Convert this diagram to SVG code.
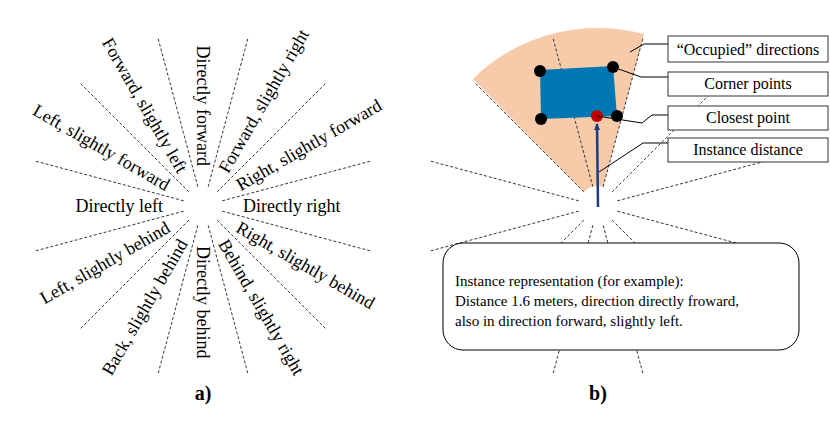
<svg xmlns="http://www.w3.org/2000/svg" width="830" height="424" viewBox="0 0 830 424">
<style>
.ray{stroke:#333;stroke-width:0.9;stroke-dasharray:3,2;fill:none}
.lab{font-family:"Liberation Serif",serif;font-size:18px;dominant-baseline:central;fill:#000}
.box{fill:#fff;stroke:#333;stroke-width:1}
.bt{font-family:"Liberation Serif",serif;font-size:16px;text-anchor:middle;fill:#000}
.lead{stroke:#000;stroke-width:1;fill:none}
.dot{fill:#000}
</style>
<defs>
<marker id="ah" markerWidth="8" markerHeight="8" refX="6" refY="4" orient="auto" markerUnits="userSpaceOnUse"><path d="M0,1 L7,4 L0,7 Z" fill="#1f3a80"/></marker>
<g id="rays">
<line class="ray" x1="0" y1="-20" x2="0" y2="-173" transform="rotate(15)"/>
<line class="ray" x1="0" y1="-20" x2="0" y2="-173" transform="rotate(45)"/>
<line class="ray" x1="0" y1="-20" x2="0" y2="-173" transform="rotate(75)"/>
<line class="ray" x1="0" y1="-20" x2="0" y2="-173" transform="rotate(105)"/>
<line class="ray" x1="0" y1="-20" x2="0" y2="-173" transform="rotate(135)"/>
<line class="ray" x1="0" y1="-20" x2="0" y2="-173" transform="rotate(165)"/>
<line class="ray" x1="0" y1="-20" x2="0" y2="-173" transform="rotate(195)"/>
<line class="ray" x1="0" y1="-20" x2="0" y2="-173" transform="rotate(225)"/>
<line class="ray" x1="0" y1="-20" x2="0" y2="-173" transform="rotate(255)"/>
<line class="ray" x1="0" y1="-20" x2="0" y2="-173" transform="rotate(285)"/>
<line class="ray" x1="0" y1="-20" x2="0" y2="-173" transform="rotate(315)"/>
<line class="ray" x1="0" y1="-20" x2="0" y2="-173" transform="rotate(345)"/>
</g>
</defs>
<rect width="830" height="424" fill="#fff"/>
<g id="panel-a" transform="translate(203,206)">
<use href="#rays"/>
<text class="lab" x="40" text-anchor="start">Directly right</text>
<text class="lab" x="40" text-anchor="start" transform="rotate(-30)">Right, slightly forward</text>
<text class="lab" x="40" text-anchor="start" transform="rotate(-60)">Forward, slightly right</text>
<text class="lab" x="-40" text-anchor="end" transform="rotate(90)">Directly forward</text>
<text class="lab" x="-40" text-anchor="end" transform="rotate(60)">Forward, slightly left</text>
<text class="lab" x="-40" text-anchor="end" transform="rotate(30)">Left, slightly forward</text>
<text class="lab" x="-40" text-anchor="end">Directly left</text>
<text class="lab" x="-40" text-anchor="end" transform="rotate(-30)">Left, slightly behind</text>
<text class="lab" x="-40" text-anchor="end" transform="rotate(-60)">Back, slightly behind</text>
<text class="lab" x="40" text-anchor="start" transform="rotate(90)">Directly behind</text>
<text class="lab" x="40" text-anchor="start" transform="rotate(60)">Behind, slightly right</text>
<text class="lab" x="40" text-anchor="start" transform="rotate(30)">Right, slightly behind</text>
</g>
<text x="203" y="400" font-family="Liberation Serif,serif" font-size="20" font-weight="bold" text-anchor="middle">a)</text>
<g id="panel-b">
<path d="M598,206 m-14.1,-14.1 L472.9,78.9 A178,178 0 0 1 644.1,34.1 L603.2,186.7 A20,20 0 0 0 583.9,191.9 Z" fill="#f7cbaa"/>
<g transform="translate(598,206)"><use href="#rays"/></g>
<polygon points="540,70 613,66 617,116 541,119" fill="#0077b3"/>
<g id="corners"><circle class="dot" cx="540" cy="71" r="6"/><circle class="dot" cx="613" cy="67" r="6"/><circle class="dot" cx="617" cy="116" r="6"/><circle class="dot" cx="541" cy="119" r="6"/></g>
<circle cx="597" cy="116" r="6" fill="#c00000"/>
</g>
<g id="connectors">
<line x1="598" y1="207" x2="597" y2="124" stroke="#1f3a80" stroke-width="2.5" marker-end="url(#ah)"/>
<polyline class="lead" points="630,52 644,44 668,44"/>
<polyline class="lead" points="613,67 641,77 668,77"/>
<polyline class="lead" points="597,116 642,123 652,115 668,115"/>
<polyline class="lead" points="599,172 643,143 668,143"/>
</g>
<g id="box-occupied"><rect class="box" x="668" y="36" width="160" height="26"/><text class="bt" x="748" y="55">“Occupied” directions</text></g>
<g id="box-corner"><rect class="box" x="668" y="72" width="160" height="24"/><text class="bt" x="748" y="89">Corner points</text></g>
<g id="box-closest"><rect class="box" x="668" y="106" width="160" height="24"/><text class="bt" x="748" y="123">Closest point</text></g>
<g id="box-instance"><rect class="box" x="668" y="138" width="160" height="24"/><text class="bt" x="748" y="155">Instance distance</text></g>
<g id="box-repr"><rect x="443" y="243" width="356" height="107" rx="20" fill="#fff" stroke="#000" stroke-width="1"/>
<text font-family="Liberation Serif,serif" font-size="15" x="455" y="286">Instance representation (for example):</text>
<text font-family="Liberation Serif,serif" font-size="15" x="455" y="306">Distance 1.6 meters, direction directly froward,</text>
<text font-family="Liberation Serif,serif" font-size="15" x="455" y="326">also in direction forward, slightly left.</text></g>
<text x="598" y="400" font-family="Liberation Serif,serif" font-size="20" font-weight="bold" text-anchor="middle">b)</text>
</svg>
